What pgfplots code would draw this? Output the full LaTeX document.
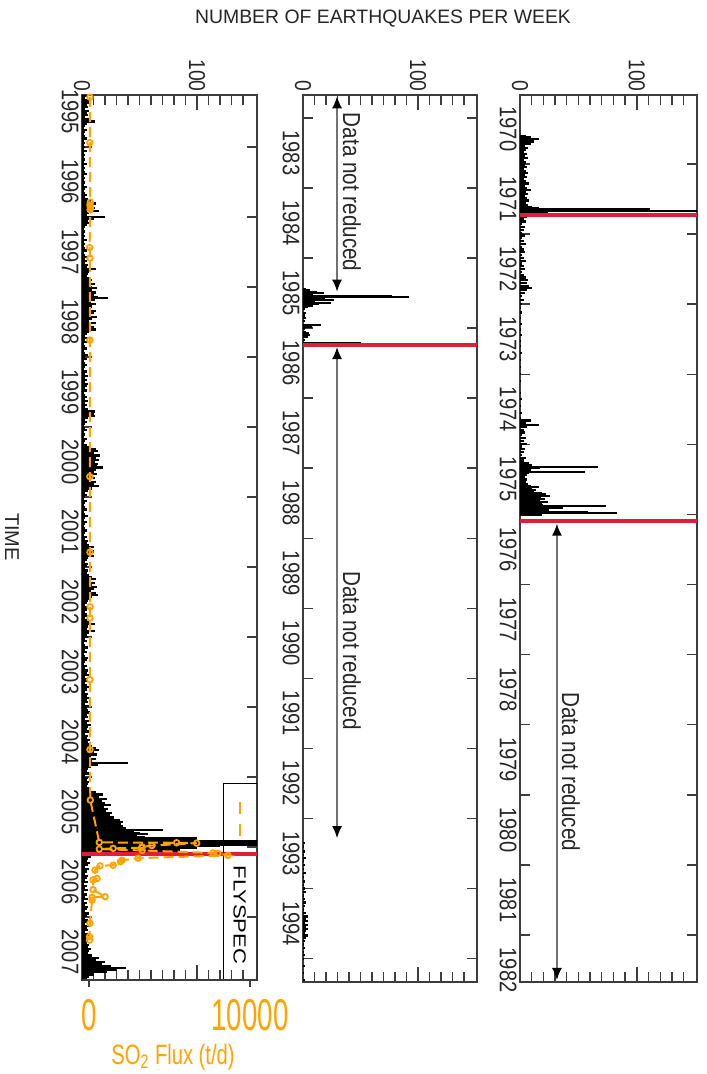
\documentclass[border=0pt]{standalone}
\usepackage{pgfplots}
\pgfplotsset{compat=1.18}
\usepackage{fontspec}
\setmainfont{Liberation Sans}
\newfontfamily\tickfont[FakeStretch=0.84]{Liberation Sans}
\newfontfamily\numfont[FakeStretch=0.62]{Liberation Sans}
\newfontfamily\labfont[FakeStretch=0.72]{Liberation Sans}
\newfontfamily\widefont[FakeStretch=1.25]{Liberation Sans}
\usetikzlibrary{arrows.meta}
\definecolor{soorange}{RGB}{255,163,0}
\definecolor{erupred}{RGB}{225,30,55}
\definecolor{axgray}{RGB}{60,60,60}
\tikzset{
  nrarrow/.style={black!55, line width=0.8pt, {Latex[length=6pt,width=5pt,black]}-{Latex[length=6pt,width=5pt,black]}},
  nrtext/.style={rotate=-90, font=\tickfont\fontsize{12.3}{14}\selectfont, text=black!85},
}
\pgfplotsset{
  quake/.style={
    scale only axis, y dir=reverse, xmin=0,
    xtick={0,100}, xticklabels={0,100},
    minor xtick={10,20,30,40,50,60,70,80,90,110,120,130,140},
    xticklabel pos=upper,
    xticklabel style={rotate=-90, anchor=east, inner sep=1.5pt, font=\tickfont\fontsize{11.5}{13}\selectfont, text=black!85},
    yticklabel style={rotate=-90, anchor=north, inner sep=1.5pt, font=\tickfont\fontsize{12}{14}\selectfont, text=black!85},
    major tick length=7.5pt, minor tick length=5pt,
    every major y tick/.append style={draw=none},
    every tick/.append style={axgray, line width=0.7pt},
    axis line style={axgray, line width=0.8pt},
    clip=true,
  },
  bars/.style={xcomb, black, line width=1.1pt, mark=none},
  redl/.style={erupred, line width=2pt, mark=none},
}
\begin{document}
\begin{tikzpicture}
\useasboundingbox (0,0) rectangle (353pt,537pt);
\node[font=\fontsize{9.7}{11}\selectfont, text=black!85] at (191.5pt,527.5pt) {NUMBER OF EARTHQUAKES PER WEEK};
\node[rotate=-90, font=\fontsize{10}{12}\selectfont, text=black!85] at (6pt,268.5pt) {TIME};

% ---------------- Panel 3 : 1970-1982 ----------------
\begin{axis}[quake, at={(304.25pt,267.75pt)}, anchor=center,
  width=88.5pt, height=443.5pt, xmax=151.5,
  ymin=1970.016, ymax=1982.669,
  ytick={1970.5,1971.5,...,1982.5},
  yticklabels={1970,1971,1972,1973,1974,1975,1976,1977,1978,1979,1980,1981,1982},
  minor ytick={1971,1972,...,1982}]
\addplot[bars] coordinates {
(5,1970.60) (9,1970.62) (16,1970.64) (8,1970.66) (12,1970.68) (6,1970.70) (9,1970.72) (4,1970.74) (7,1970.77) (5,1970.80)
(3,1970.83) (6,1970.86) (4,1970.89) (7,1970.92) (3,1970.95) (5,1970.98) (4,1971.01) (6,1971.04) (3,1971.07) (5,1971.10)
(7,1971.13) (4,1971.16) (6,1971.19) (3,1971.22) (5,1971.25) (8,1971.28) (4,1971.31) (6,1971.34) (9,1971.37) (5,1971.40)
(7,1971.43) (4,1971.46) (6,1971.49) (8,1971.52) (5,1971.55) (7,1971.58) (10,1971.61) (16,1971.63) (111,1971.65) (160,1971.67)
(24,1971.69) (12,1971.71)
(6,1971.76) (3,1971.79) (5,1971.82) (2,1971.86) (4,1971.90) (3,1971.94) (2,1971.98) (4,1972.02) (2,1972.06) (3,1972.10)
(5,1972.14) (2,1972.18) (3,1972.22) (4,1972.26) (2,1972.30) (3,1972.34) (5,1972.38) (2,1972.42) (3,1972.46) (4,1972.50)
(2,1972.54) (3,1972.58) (5,1972.62) (7,1972.66) (6,1972.70) (8,1972.74) (10,1972.77) (6,1972.80) (4,1972.84) (2,1972.88)
(3,1972.94) (2,1973.00) (1,1973.06) (2,1973.12) (1,1973.20) (2,1973.28) (1,1973.36) (2,1973.44) (1,1973.52) (1,1973.60)
(2,1973.70) (1,1973.80) (1,1973.90) (1,1974.00) (1,1974.10) (1,1974.27) (2,1974.35) (1,1974.45) (2,1974.55) (1,1974.62)
(9,1974.66) (5,1974.70) (16,1974.72) (6,1974.75) (3,1974.79) (4,1974.83) (2,1974.87) (5,1974.91) (3,1974.95) (6,1974.99)
(2,1975.03) (4,1975.07) (3,1975.11) (2,1975.15) (5,1975.19) (3,1975.23) (8,1975.27) (10,1975.30) (67,1975.32) (17,1975.34)
(9,1975.36) (56,1975.39) (8,1975.41) (6,1975.44) (4,1975.47) (6,1975.50) (5,1975.53) (7,1975.56) (9,1975.59) (16,1975.61)
(10,1975.63) (14,1975.65) (12,1975.67) (19,1975.69) (22,1975.71) (26,1975.74) (18,1975.76) (21,1975.78) (17,1975.80) (24,1975.82)
(19,1975.84) (20,1975.86) (74,1975.88) (37,1975.90) (22,1975.92) (25,1975.94) (58,1975.96) (83,1975.98) (19,1976.00)
};
\addplot[redl] coordinates {(0,1971.73) (151.5,1971.73)};
\addplot[redl] coordinates {(0,1976.09) (151.5,1976.09)};
\draw[nrarrow] (axis cs:31.6,1976.13) -- (axis cs:31.6,1982.64);
\node[nrtext] at (axis cs:43.6,1979.67) {Data not reduced};
\end{axis}

% ---------------- Panel 2 : 1983-1995 ----------------
\begin{axis}[quake, at={(195pt,267.75pt)}, anchor=center,
  width=87pt, height=443.5pt, xmax=151.3,
  ymin=1982.672, ymax=1995.334,
  ytick={1983.5,1984.5,...,1994.5},
  yticklabels={1983,1984,1985,1986,1987,1988,1989,1990,1991,1992,1993,1994},
  minor ytick={1983,1984,...,1995}]
\addplot[bars] coordinates {
(3,1985.44) (6,1985.46) (12,1985.48) (18,1985.50) (9,1985.52) (77,1985.54) (92,1985.56) (19,1985.58) (27,1985.60) (10,1985.62)
(24,1985.64) (14,1985.66) (9,1985.68) (4,1985.70) (2,1985.73) (3,1985.78) (2,1985.82) (3,1985.86) (2,1985.90) (16,1985.96)
(8,1985.98) (2,1986.01) (3,1986.05) (5,1986.07) (6,1986.10) (4,1986.13) (2,1986.17) (50,1986.21)
(2,1993.35) (1,1993.40) (2,1993.47) (1,1993.52) (3,1993.56) (1,1993.60) (2,1993.66) (1,1993.72) (3,1993.78) (1,1993.84)
(2,1993.90) (1,1993.95) (2,1994.00) (3,1994.05) (1,1994.10) (2,1994.15) (3,1994.20) (2,1994.25) (1,1994.30) (3,1994.35)
(4,1994.40) (3,1994.43) (4,1994.46) (2,1994.49) (4,1994.52) (3,1994.55) (4,1994.58) (3,1994.61) (2,1994.64) (4,1994.67)
(3,1994.70) (2,1994.75) (1,1994.80) (2,1994.85) (1,1994.90) (2,1994.95) (1,1995.00) (2,1995.10) (1,1995.20) (2,1995.30)
};
\addplot[redl] coordinates {(0,1986.24) (151.3,1986.24)};
\draw[nrarrow] (axis cs:29.6,1982.69) -- (axis cs:29.6,1985.48);
\draw[nrarrow] (axis cs:29.6,1986.27) -- (axis cs:29.6,1993.28);
\node[nrtext] at (axis cs:42.6,1984.06) {Data not reduced};
\node[nrtext] at (axis cs:42.6,1990.6) {Data not reduced};
\end{axis}

% ---------------- Panel 1 : 1995-2007 ----------------
\begin{axis}[quake, at={(84.75pt,268.25pt)}, anchor=center,
  width=87.5pt, height=442.5pt, xmax=152,
  ymin=1995.26, ymax=2007.9,
  ytick={1995.5,1996.5,...,2007.5},
  yticklabels={1995,1996,1997,1998,1999,2000,2001,2002,2003,2004,2005,2006,2007},
  minor ytick={1996,1997,...,2007}]
\addplot[bars] coordinates {
(4,1995.28) (3,1995.31) (6,1995.34) (8,1995.37) (4,1995.40) (5,1995.43) (3,1995.46) (6,1995.49) (4,1995.52) (5,1995.55)
(3,1995.58) (7,1995.61) (11,1995.64) (4,1995.67) (3,1995.70) (2,1995.73) (4,1995.76) (3,1995.79) (2,1995.82) (3,1995.85)
(4,1995.88) (2,1995.91) (3,1995.94) (2,1995.97) (3,1996.00) (2,1996.03) (4,1996.06) (2,1996.09) (3,1996.12) (2,1996.15)
(3,1996.18) (2,1996.21) (4,1996.24) (2,1996.27) (3,1996.30) (2,1996.33) (3,1996.36) (4,1996.39) (2,1996.42) (3,1996.45)
(2,1996.48) (3,1996.51) (2,1996.54) (4,1996.57) (3,1996.60) (2,1996.63) (3,1996.66) (4,1996.69) (3,1996.72) (5,1996.75)
(8,1996.78) (12,1996.81) (9,1996.84) (11,1996.87) (8,1996.90) (15,1996.92) (6,1996.95) (4,1996.98) (20,1997.00) (10,1997.03)
(5,1997.06) (7,1997.09) (4,1997.12) (3,1997.15) (2,1997.18) (3,1997.21) (2,1997.24) (3,1997.27) (2,1997.30) (4,1997.33)
(2,1997.36) (3,1997.39) (2,1997.42) (3,1997.45) (4,1997.48) (2,1997.51) (3,1997.54) (5,1997.57) (3,1997.60) (4,1997.63)
(3,1997.66) (5,1997.69) (4,1997.72) (12,1997.75) (6,1997.78) (5,1997.81) (4,1997.84) (6,1997.87) (9,1997.90) (7,1997.93)
(11,1997.96) (8,1997.99) (13,1998.02) (9,1998.05) (12,1998.08) (10,1998.11) (14,1998.14) (23,1998.16) (11,1998.19) (8,1998.22)
(12,1998.25) (9,1998.28) (7,1998.31) (12,1998.34) (10,1998.37) (8,1998.40) (13,1998.43) (9,1998.46) (6,1998.49) (12,1998.52)
(7,1998.55) (10,1998.58) (12,1998.61) (6,1998.64) (4,1998.67) (3,1998.70) (5,1998.73) (3,1998.76) (4,1998.79) (2,1998.82)
(3,1998.85) (4,1998.88) (2,1998.91) (3,1998.94) (5,1998.97) (3,1999.00) (4,1999.03) (2,1999.06) (3,1999.09) (4,1999.12)
(3,1999.15) (2,1999.18) (4,1999.21) (3,1999.24) (5,1999.27) (3,1999.30) (4,1999.33) (3,1999.36) (5,1999.39) (4,1999.42)
(3,1999.45) (4,1999.48) (2,1999.51) (3,1999.54) (4,1999.57) (3,1999.60) (5,1999.63) (3,1999.66) (4,1999.69) (3,1999.72)
(5,1999.75) (11,1999.78) (10,1999.81) (11,1999.84) (5,1999.87) (3,1999.90) (4,1999.93) (3,1999.96) (2,1999.99) (3,2000.02)
(4,2000.05) (2,2000.08) (3,2000.11) (2,2000.14) (4,2000.17) (3,2000.20) (2,2000.23) (4,2000.26) (8,2000.29) (12,2000.32)
(14,2000.35) (10,2000.38) (16,2000.41) (12,2000.44) (15,2000.47) (11,2000.50) (14,2000.53) (13,2000.56) (18,2000.58) (12,2000.61)
(10,2000.64) (13,2000.67) (9,2000.70) (11,2000.73) (8,2000.76) (12,2000.79) (10,2000.82) (15,2000.85) (9,2000.88) (5,2000.91)
(3,2000.94) (4,2000.97) (3,2001.00) (2,2001.03) (4,2001.06) (3,2001.09) (2,2001.12) (3,2001.15) (4,2001.18) (2,2001.21)
(3,2001.24) (5,2001.27) (3,2001.30) (2,2001.33) (4,2001.36) (3,2001.39) (2,2001.42) (3,2001.45) (4,2001.48) (3,2001.51)
(2,2001.54) (4,2001.57) (3,2001.60) (5,2001.63) (4,2001.66) (6,2001.69) (10,2001.72) (7,2001.75) (10,2001.78) (8,2001.81)
(10,2001.84) (5,2001.87) (4,2001.90) (3,2001.93) (5,2001.96) (4,2001.99) (3,2002.02) (5,2002.05) (4,2002.08) (6,2002.11)
(9,2002.14) (12,2002.17) (8,2002.20) (11,2002.23) (9,2002.26) (13,2002.29) (10,2002.32) (8,2002.35) (12,2002.38) (14,2002.40)
(9,2002.43) (7,2002.46) (5,2002.49) (4,2002.52) (3,2002.55) (5,2002.58) (4,2002.61) (3,2002.64) (4,2002.67) (5,2002.70)
(3,2002.73) (4,2002.76) (6,2002.79) (11,2002.82) (5,2002.85) (4,2002.88) (11,2002.91) (6,2002.94) (4,2002.97) (5,2003.00)
(3,2003.03) (4,2003.06) (2,2003.09) (3,2003.12) (5,2003.15) (3,2003.18) (4,2003.21) (2,2003.24) (3,2003.27) (5,2003.30)
(4,2003.33) (3,2003.36) (2,2003.39) (4,2003.42) (3,2003.45) (5,2003.48) (4,2003.51) (6,2003.54) (3,2003.57) (4,2003.60)
(5,2003.63) (3,2003.66) (4,2003.69) (6,2003.72) (4,2003.75) (3,2003.78) (5,2003.81) (4,2003.84) (6,2003.87) (4,2003.90)
(5,2003.93) (3,2003.96) (6,2003.99) (4,2004.02) (5,2004.05) (7,2004.08) (4,2004.11) (5,2004.14) (3,2004.17) (6,2004.20)
(4,2004.23) (8,2004.26) (5,2004.29) (4,2004.32) (6,2004.35) (3,2004.38) (5,2004.41) (4,2004.44) (7,2004.47) (5,2004.50)
(6,2004.53) (9,2004.56) (12,2004.59) (15,2004.62) (10,2004.65) (13,2004.68) (8,2004.71) (12,2004.74) (9,2004.77) (40,2004.80)
(14,2004.83) (8,2004.86) (5,2004.89) (4,2004.92) (6,2004.95) (3,2004.98) (5,2005.01) (4,2005.04) (6,2005.07) (5,2005.10)
(4,2005.13) (7,2005.16) (6,2005.19) (12,2005.22) (18,2005.25) (15,2005.28) (22,2005.31) (17,2005.34) (20,2005.37) (25,2005.40)
(19,2005.43) (23,2005.46) (21,2005.49) (26,2005.52) (24,2005.55) (28,2005.58) (33,2005.61) (36,2005.64) (34,2005.67) (36,2005.70)
(38,2005.73) (70,2005.76) (45,2005.78) (50,2005.80) (57,2005.82) (48,2005.84) (55,2005.86) (100,2005.88) (85,2005.90) (165,2005.92)
(98,2005.935) (165,2005.95) (165,2005.97) (120,2005.99) (100,2006.01) (60,2006.03) (85,2006.05) (40,2006.07) (6,2006.11) (8,2006.14)
(5,2006.17) (4,2006.20) (7,2006.23) (5,2006.26) (3,2006.29) (6,2006.32) (4,2006.35) (3,2006.38) (5,2006.41) (4,2006.44)
(3,2006.47) (5,2006.50) (2,2006.53) (4,2006.56) (3,2006.59) (5,2006.62) (2,2006.65) (4,2006.68) (3,2006.71) (5,2006.74)
(2,2006.77) (4,2006.80) (3,2006.83) (5,2006.86) (4,2006.89) (3,2006.92) (6,2006.95) (4,2006.98) (3,2007.01) (5,2007.04)
(4,2007.07) (3,2007.10) (6,2007.13) (4,2007.16) (5,2007.19) (3,2007.22) (6,2007.25) (4,2007.28) (7,2007.31) (5,2007.34)
(4,2007.37) (6,2007.40) (5,2007.43) (8,2007.46) (6,2007.49) (5,2007.52) (9,2007.55) (15,2007.58) (12,2007.61) (20,2007.64)
(17,2007.67) (25,2007.70) (38,2007.73) (30,2007.76) (22,2007.79) (10,2007.82) (6,2007.85) (4,2007.88)
};
\addplot[redl] coordinates {(0,2006.10) (152,2006.10)};
\draw[black, line width=0.5pt] (axis cs:122.6,2005.10) rectangle (axis cs:152,2007.95);
\draw[soorange, line width=1pt, dash pattern=on 6pt off 5pt] (axis cs:137,2005.36) -- (axis cs:137,2005.86);
\node[rotate=-90, font=\widefont\fontsize{8.8}{10}\selectfont] at (axis cs:137,2006.97) {FLYSPEC};
\end{axis}

% ---------------- SO2 flux overlay on panel 1 ----------------
\begin{axis}[scale only axis, at={(84.75pt,268.25pt)}, anchor=center,
  width=87.5pt, height=442.5pt, y dir=reverse,
  xmin=-435, xmax=10435, ymin=1995.26, ymax=2007.9,
  axis x line*=bottom, axis y line=none,
  axis line style={axgray, line width=0.8pt},
  scaled x ticks=false,
  xtick={0,10000}, xticklabels={0,10000}, minor xtick={},
  xtick align=outside, major tick length=3.5pt,
  every tick/.append style={axgray, line width=0.7pt},
  xticklabel style={text=soorange, font=\numfont\fontsize{22.3}{24}\selectfont, inner sep=0pt, anchor=north, yshift=-6pt},
  xlabel={SO\textsubscript{2} Flux (t/d)},
  xlabel style={text=soorange, font=\labfont\fontsize{14}{16}\selectfont, at={(axis description cs:0.52,0)}, anchor=center, yshift=-38.5pt},
  clip=true]
\addplot[soorange, line width=1pt, dash pattern=on 5pt off 2.5pt, mark=o, mark size=1.4pt, mark options={solid, line width=0.9pt}] coordinates {
(60,1995.29) (50,1995.94) (80,1996.79) (60,1996.83) (90,1996.87) (70,1996.90) (40,1997.44) (60,1997.59) (50,1998.76)
(50,2000.71) (60,2001.79) (70,2002.57) (60,2002.73) (50,2003.61) (60,2004.61) (80,2005.33)
(640,2005.935) (5440,2005.94) (6690,2005.945) (3900,2005.98) (3300,2006.00) (3270,2006.01) (1500,2006.02) (640,2006.03)
(3300,2006.05) (7700,2006.085) (8000,2006.09) (8630,2006.12) (3050,2006.16) (2050,2006.19) (1950,2006.21) (1500,2006.26)
(680,2006.27) (370,2006.33) (500,2006.45) (250,2006.47) (250,2006.61) (1000,2006.71) (190,2006.72) (190,2006.76)
(60,2007.09) (30,2007.28) (30,2007.33)
};
\end{axis}
\end{tikzpicture}
\end{document}
